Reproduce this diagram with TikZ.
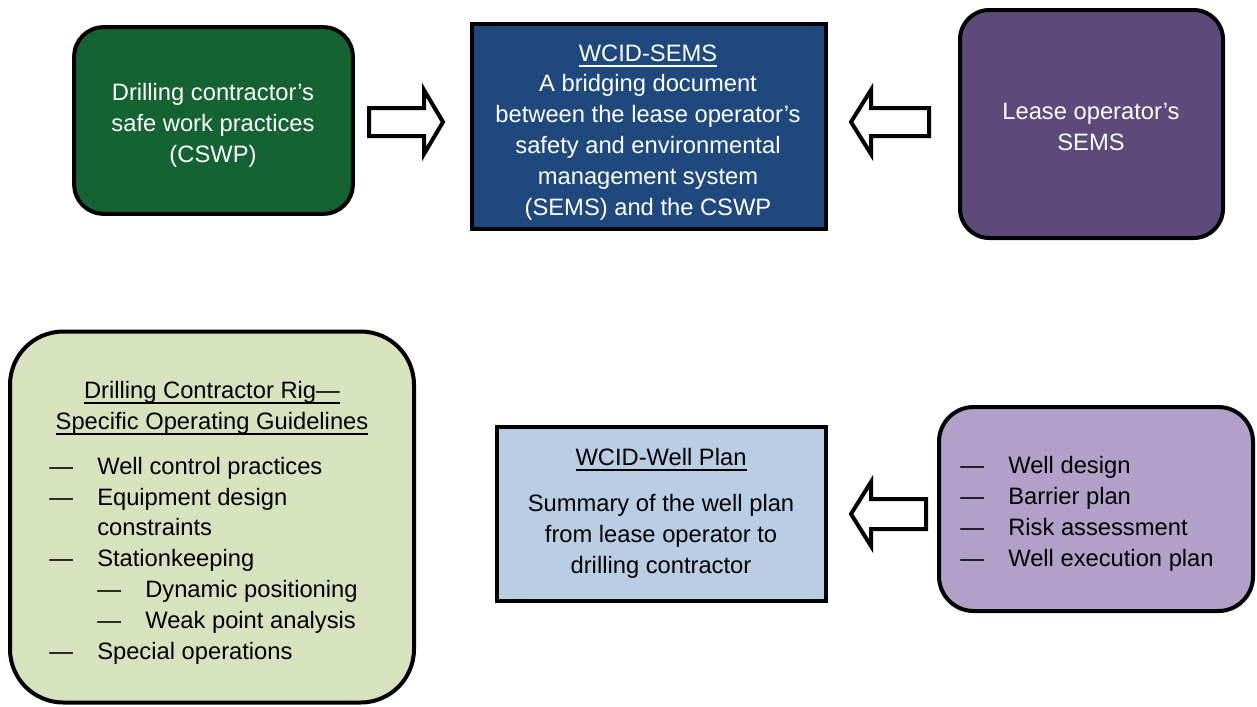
\documentclass[tikz,border=0pt]{standalone}
\usepackage{fontspec}
\setmainfont{Liberation Sans}
\definecolor{cgreen}{RGB}{21,98,50}
\definecolor{cblue}{RGB}{31,73,125}
\definecolor{cpurple}{RGB}{94,74,122}
\definecolor{clgreen}{RGB}{215,226,190}
\definecolor{clblue}{RGB}{185,205,229}
\definecolor{clilac}{RGB}{177,160,199}
\newcommand{\ulin}[1]{\setbox0\hbox{#1}\rlap{\rule[-4.2pt]{\wd0}{1.1pt}}\box0}
\newcommand{\dashitem}[1]{\makebox[36pt][l]{—}#1}
\newcommand{\dashsub}[1]{\hspace*{36pt}\makebox[36pt][l]{—}#1}
\begin{document}
\begin{tikzpicture}[x=0.75pt,y=-0.75pt,
  box/.style={draw=black, line width=3pt, inner sep=0pt},
  txt/.style={font=\fontsize{17.8}{23.1}\selectfont, inner sep=0pt},
  blockarrow/.style={draw=black, fill=white, line width=3pt, miter limit=10}]
\useasboundingbox (0,0) rectangle (1257,707);
% boxes
\node[box, rounded corners=22pt, fill=cgreen, minimum width=209pt, minimum height=140pt] (cswp) at (213.5,120.5) {};
\node[box, fill=cblue, minimum width=265.5pt, minimum height=153.75pt] (sems) at (649,126.5) {};
\node[box, rounded corners=22pt, fill=cpurple, minimum width=197.25pt, minimum height=171pt] (lsems) at (1091.5,124) {};
\node[box, rounded corners=40pt, fill=clgreen, minimum width=303pt, minimum height=278.25pt] (rig) at (212,517) {};
\node[box, fill=clblue, minimum width=246.75pt, minimum height=130.5pt] (plan) at (661.5,514) {};
\node[box, rounded corners=26pt, fill=clilac, minimum width=235.5pt, minimum height=153pt] (well) at (1096,509) {};
% texts (base anchor = baseline of the last line)
\node[txt, text=white, align=center, anchor=base] (t1) at (213,162.5) {Drilling contractor’s\\safe work practices\\(CSWP)};
\node[txt, text=white, align=center, anchor=base] (t2) at (648,215) {\ulin{WCID-SEMS}\\A bridging document\\between the lease operator’s\\safety and environmental\\management system\\(SEMS) and the CSWP};
\node[txt, text=white, align=center, anchor=base] (t3) at (1091,150) {Lease operator’s\\SEMS};
\node[txt, align=center, anchor=base] (t4) at (212,429) {\ulin{Drilling Contractor Rig—}\\\ulin{Specific Operating Guidelines}};
\node[txt, align=left, anchor=base west] (t5) at (49,659) {\dashitem{Well control practices}\\\dashitem{Equipment design}\\\hspace*{36pt}constraints\\\dashitem{Stationkeeping}\\\dashsub{Dynamic positioning}\\\dashsub{Weak point analysis}\\\dashitem{Special operations}};
\node[txt, align=center, anchor=base] (t6) at (661,465) {\ulin{WCID-Well Plan}};
\node[txt, align=center, anchor=base] (t7) at (661,573.5) {Summary of the well plan\\from lease operator to\\drilling contractor};
\node[txt, align=left, anchor=base west] (t8) at (960,566) {\dashitem{Well design}\\\dashitem{Barrier plan}\\\dashitem{Risk assessment}\\\dashitem{Well execution plan}};
% block arrows
\draw[blockarrow] (369,108) -- (424,108) -- (424,90) -- (443,122) -- (424,154) -- (424,136) -- (369,136) -- cycle;
\draw[blockarrow] (929,108) -- (871,108) -- (871,90) -- (851,122) -- (871,154) -- (871,136) -- (929,136) -- cycle;
\draw[blockarrow] (926,499) -- (871,499) -- (871,482) -- (851,514) -- (871,546) -- (871,529) -- (926,529) -- cycle;
\end{tikzpicture}
\end{document}
